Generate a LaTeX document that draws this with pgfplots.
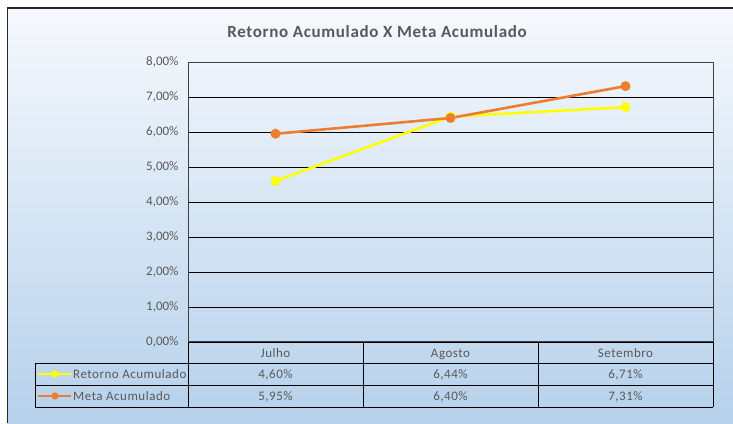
\documentclass[border=0pt]{standalone}
\usepackage{pgfplots}
\pgfplotsset{compat=1.18}
\usepackage{fontspec}
\setmainfont{Carlito}
\newfontfamily\wide[LetterSpace=4]{Carlito}
\definecolor{txtgray}{HTML}{595959}
\definecolor{retorno}{HTML}{FFFF00}
\definecolor{meta}{HTML}{ED7D31}
\definecolor{bgtop}{HTML}{F6F9FD}
\definecolor{bgbot}{HTML}{B6D1EB}

\begin{document}
\begin{tikzpicture}[x=1pt,y=1pt]
\useasboundingbox (0,0) rectangle (733,423);
\fill[white] (0,0) rectangle (733,423);
\shade[top color=bgtop,bottom color=bgbot] (7.5,0) rectangle (733,415);
\draw[line width=1.8pt,black!85] (7.5,0) -- (7.5,415) -- (733,415);

\node[font=\wide\fontsize{17}{20}\selectfont\bfseries, text=txtgray] at (377,391) {Retorno Acumulado X Meta Acumulado};

\begin{axis}[
    at={(188pt,81pt)}, anchor=south west,
    scale only axis, width=525pt, height=280pt,
    xmin=-0.5, xmax=2.5, ymin=0, ymax=8,
    ytick={0,1,...,8}, xtick=\empty,
    ymajorgrids, grid style={black, line width=0.8pt},
    axis line style={draw=black!75, line width=1pt},
    major tick style={draw=none},
    /pgf/number format/assume math mode=true,
    yticklabel={\pgfmathprintnumber[fixed,fixed zerofill,precision=2,use comma]{\tick}\%},
    yticklabel style={font=\fontsize{13}{15}\selectfont, text=txtgray, xshift=-6pt},
    clip=false,
]
% Retorno Acumulado
\addplot[color=retorno, line width=2.6pt, mark=*, mark size=3.6pt,
    mark options={fill=retorno, draw=retorno}] coordinates {
    (0,4.60) (1,6.44) (2,6.71)
};
% Meta Acumulado
\addplot[color=meta, line width=2.6pt, mark=*, mark size=3.6pt,
    mark options={fill=meta, draw=meta}] coordinates {
    (0,5.95) (1,6.40) (2,7.31)
};
\end{axis}

% data table
\begin{scope}[black, line width=0.9pt]
\draw (188,81) -- (713,81);
\draw (35,60) -- (713,60);
\draw (35,38) -- (713,38);
\draw (35,16) -- (713,16);
\draw (188,81) -- (188,16);
\draw (363,81) -- (363,16);
\draw (538,81) -- (538,16);
\draw (713,81) -- (713,16);
\draw (35,60) -- (35,16);
\end{scope}

\begin{scope}[every node/.style={font=\wide\fontsize{13}{15}\selectfont, text=txtgray, anchor=base, inner sep=0pt}]
\node at (275.5,66) {Julho};
\node at (450.5,66) {Agosto};
\node at (625.5,66) {Setembro};
\node at (275.5,45) {4,60\%};
\node at (450.5,45) {6,44\%};
\node at (625.5,45) {6,71\%};
\node at (275.5,23) {5,95\%};
\node at (450.5,23) {6,40\%};
\node at (625.5,23) {7,31\%};
\node[anchor=base west] at (73,45) {Retorno Acumulado};
\node[anchor=base west] at (73,23) {Meta Acumulado};
\end{scope}

% legend keys in the table
\draw[retorno, line width=2.6pt] (38,49) -- (71,49);
\fill[retorno] (55,49) circle (3.6);
\draw[meta, line width=2.6pt] (38,27) -- (71,27);
\fill[meta] (55,27) circle (3.6);
\end{tikzpicture}
\end{document}
